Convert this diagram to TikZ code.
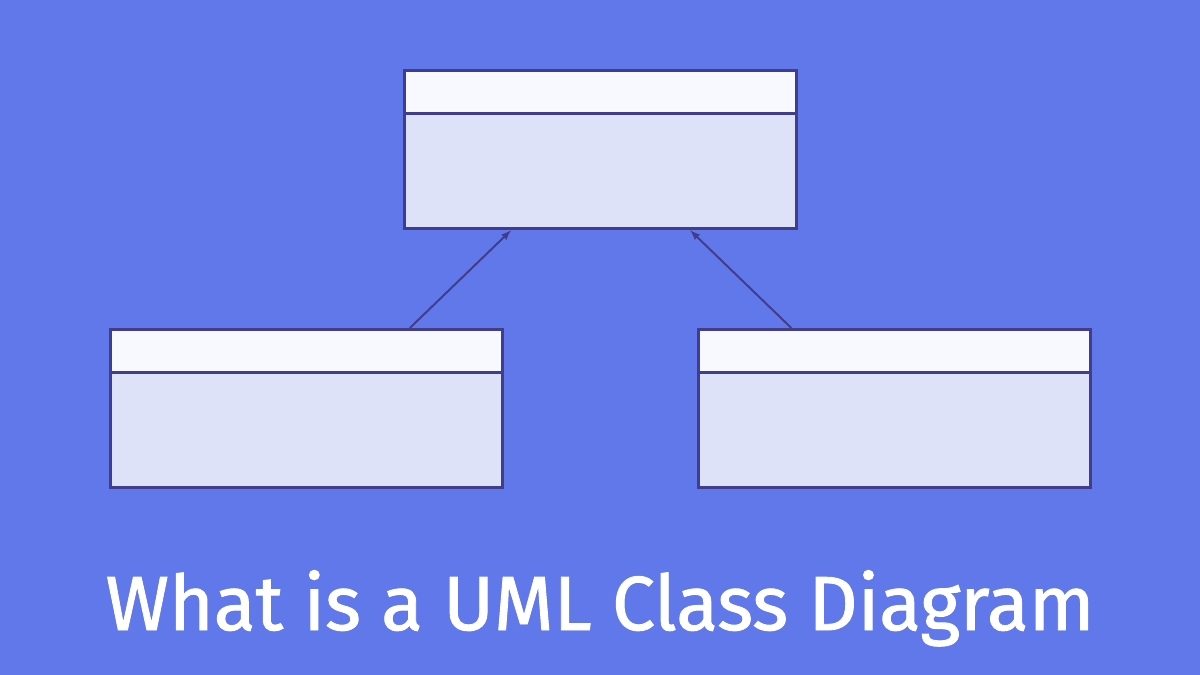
\documentclass[tikz,border=0pt]{standalone}
\usepackage{fontspec}
\setmainfont{Fira Sans}
\usetikzlibrary{shapes.multipart,arrows}
\definecolor{bgblue}{RGB}{97,120,234}
\definecolor{headfill}{RGB}{248,249,254}
\definecolor{bodyfill}{RGB}{222,226,249}
\definecolor{linecol}{RGB}{66,60,140}
\tikzset{
    umlclass/.style={rectangle split, rectangle split parts=2, draw=linecol,
        line width=2.2pt, inner sep=0pt, text width=9.8cm, anchor=north west,
        rectangle split part fill={headfill,bodyfill}},
}
\newcommand{\headpart}{\rule{0pt}{1.0cm}}
\newcommand{\bodypart}{\rule{0pt}{2.8cm}}
\begin{document}
\begin{tikzpicture}[>=latex, x=0.025cm, y=-0.025cm]
\fill[bgblue](0,0) rectangle (1200,675);
\useasboundingbox (0,0) rectangle (1200,675);

\node[umlclass] (top) at (403,69) {\headpart\nodepart{two}\bodypart};
\node[umlclass] (left) at (109,328) {\headpart\nodepart{two}\bodypart};
\node[umlclass] (right) at (697,328) {\headpart\nodepart{two}\bodypart};

\draw[->, linecol, line width=1.4pt](left.38)--(top.222);
\draw[->, linecol, line width=1.4pt](right.142)--(top.318);

\node at (600,630)[white, anchor=base]{\addfontfeatures{FakeBold=1.2}\fontsize{54.5}{60}\selectfont What is a UML Class Diagram};
\end{tikzpicture}
\end{document}
